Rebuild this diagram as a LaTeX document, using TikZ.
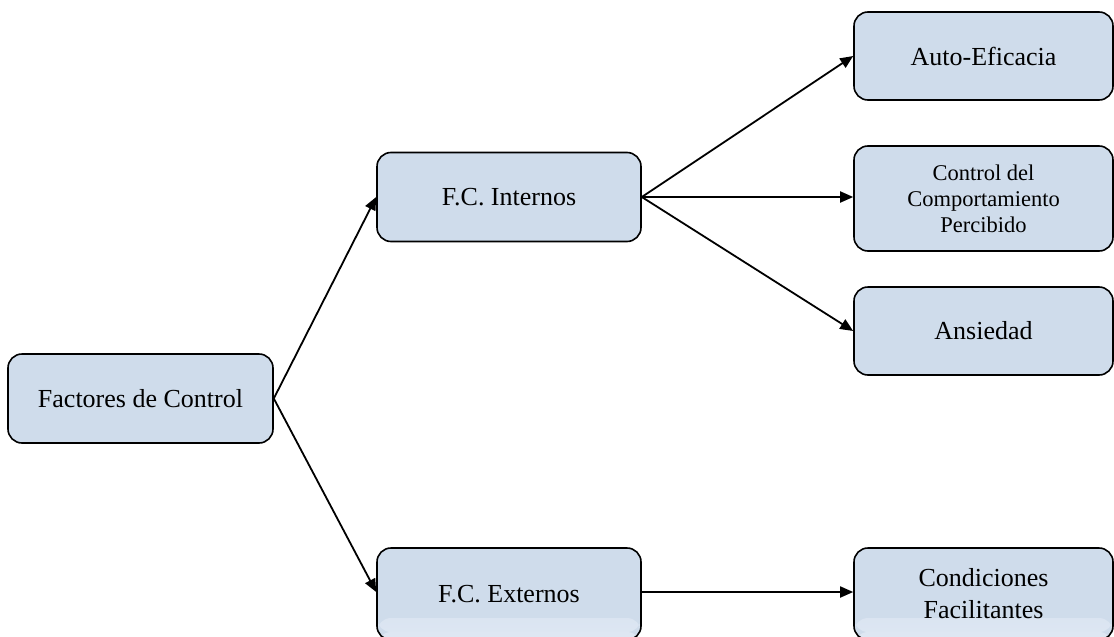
\documentclass[tikz,border=0pt]{standalone}
\usepackage{fontspec}
\setmainfont{Liberation Serif}
\usetikzlibrary{arrows.meta}
\definecolor{boxfill}{RGB}{207,220,235}
\definecolor{boxlight}{RGB}{222,231,243}
\tikzset{
  box/.style={draw=black, line width=1.6pt, rounded corners=14pt, fill=boxfill,
    align=center, inner sep=0pt, font=\fontsize{26}{32}\selectfont},
  link/.style={line width=1.8pt, -{Triangle[length=13pt,width=11pt]}},
  fadebottom/.style={path picture={
    \shade[top color=boxfill, bottom color=boxlight]
      ([yshift=22pt]path picture bounding box.south west) rectangle
      ([yshift=8pt]path picture bounding box.south east);
    \fill[boxlight] ([yshift=8pt]path picture bounding box.south west) rectangle
      (path picture bounding box.south east);}}
}
\begin{document}
\begin{tikzpicture}[x=1pt,y=-1pt]
\useasboundingbox (0,0) rectangle (1114,637);
\node[box, minimum width=265pt, minimum height=89pt] (fac) at (140.5,398.5) {Factores de Control};
\node[box, minimum width=264pt, minimum height=89pt] (int) at (509,197) {F.C. Internos};
\node[box, fadebottom, minimum width=264pt, minimum height=92pt] (ext) at (509,594) {F.C. Externos};
\node[box, minimum width=259pt, minimum height=88pt] (auto) at (983.5,56) {Auto-Eficacia};
\node[box, minimum width=259pt, minimum height=105pt, font=\fontsize{22.5}{26}\selectfont] (ctrl) at (983.5,198.5) {Control del\\Comportamiento\\Percibido};
\node[box, minimum width=259pt, minimum height=88pt] (ans) at (983.5,331) {Ansiedad};
\node[box, fadebottom, minimum width=259pt, minimum height=92pt] (cond) at (983.5,594) {Condiciones\\Facilitantes};

\draw[link] (fac.east) -- (int.west);
\draw[link] (fac.east) -- (ext.west |- 0,592);
\draw[link] (int.east) -- (auto.west);
\draw[link] (int.east) -- (ctrl.west |- int.east);
\draw[link] (int.east) -- (ans.west);
\draw[link] (ext.east |- 0,592) -- (cond.west |- 0,592);
\end{tikzpicture}
\end{document}
